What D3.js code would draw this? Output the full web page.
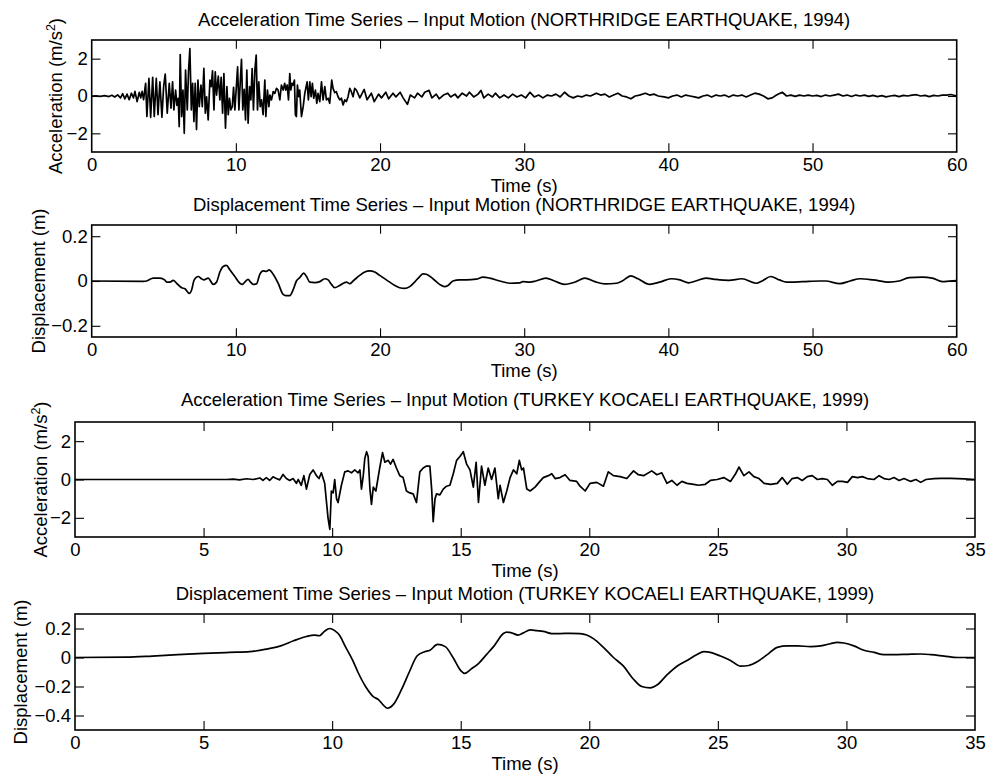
<!DOCTYPE html>
<html><head><meta charset="utf-8">
<script src="https://cdn.jsdelivr.net/npm/d3@7"></script>
<style>
body{margin:0;background:#fff}
text{font-family:"Liberation Sans",Arial,Helvetica,sans-serif;fill:#000}
</style>
</head><body>
<svg id="chart" width="991" height="776"></svg>
<script>
// ---------- DATA ----------
const accNorthridge = [
[0,0],[0.3,0.01],[0.6,-0.02],[0.9,0.02],[1.2,-0.03],[1.4,0.04],[1.6,-0.05],[1.8,0.06],[2.0,-0.1],[2.15,0.12],[2.3,-0.15],[2.45,0.1],[2.6,-0.2],[2.75,0.15],[2.9,-0.1],[3.0,0.25],[3.15,-0.3],[3.3,0.2],[3.4,-0.1],[3.5,0.25],[3.6,-0.2],[3.68,0.3],
[3.74,0.68],[3.83,-1.1],[3.97,0.94],[4.09,-1.14],[4.23,1.0],[4.34,-1.1],[4.48,0.94],[4.6,-1.0],[4.73,0.76],[4.87,-1.14],[4.99,0.5],[5.1,1.17],[5.24,-0.92],[5.38,0.68],[5.5,-0.65],[5.61,0.76],[5.7,-0.75],[5.82,0.32],[5.91,-0.5],[6.0,-0.12],[6.07,-1.64],[6.14,2.22],[6.24,-1.1],[6.33,0.32],[6.42,-2.0],[6.51,1.39],[6.63,-0.75],[6.72,1.39],[6.81,2.54],[6.91,-0.75],[7.0,0.68],[7.09,-1.37],[7.18,0.68],[7.27,-1.8],[7.37,0.85],[7.46,-0.57],[7.58,0.59],[7.67,-0.57],[7.78,1.48],[7.88,-0.92],[7.97,-0.04],[8.08,-1.28],[8.2,0.85],[8.29,0.5],[8.38,1.35],[8.48,-0.75],[8.57,1.3],[8.66,0.05],[8.78,1.07],[8.89,-0.21],[8.98,1.0],[9.08,-0.92],[9.17,1.2],[9.28,-1.72],[9.38,0.5],[9.47,-1.0],[9.56,-0.12],[9.65,-0.75],[9.75,-0.57],[9.84,0.46],[9.93,-0.75],[10.02,0.32],[10.12,1.56],[10.21,-0.75],[10.3,0.68],[10.39,1.96],[10.48,-0.75],[10.58,0.36],[10.67,-1.28],[10.76,1.39],[10.85,-1.46],[10.95,0.5],[11.04,-0.21],[11.13,1.47],[11.22,-0.75],[11.32,1.39],[11.41,2.19],[11.5,-0.75],[11.59,0.76],[11.69,-0.57],[11.78,-0.21],[11.89,-1.0],[12.01,0.85],[12.08,-1.1],[12.19,0.32],[12.29,-0.57],[12.36,0.05],[12.47,-0.21],[12.59,0.23],[12.7,0.14],[12.82,0.41],[12.93,0.32],[13.05,-0.21],[13.16,0.59],[13.28,0.32],[13.39,0.68],[13.46,0.32],[13.56,0.59],[13.65,-0.21],[13.74,1.2],[13.81,0.32],[13.9,0.68],[13.97,0.59],[14.06,0.85],[14.13,-1.01],[14.2,-1.1],[14.27,0.59],[14.36,-0.04],[14.43,0.32],[14.55,-1.1],[14.67,-0.57],[14.78,0.14],[14.85,0.41],[14.94,0.76],[15.03,-0.21],[15.13,0.76],[15.22,-0.04],[15.31,0.68],[15.4,-0.12],[15.52,0.32],[15.61,-0.39],[15.7,0.14],[15.82,-0.3],[15.94,0.76],[16.05,-0.21],[16.17,0.5],[16.28,-0.21],[16.4,-0.12],[16.51,-0.39],[16.65,0.85],[16.74,0.41],[16.86,0.18],[16.97,0.23],[17.09,-0.04],[17.21,-0.21],[17.32,-0.12],[17.44,-0.48],[17.55,-0.21],[17.67,-0.3],[17.78,-0.04],[17.9,0.41],[18.01,0.23],[18.13,-0.04],[18.24,0.41],[18.36,0.32],
[18.6,-0.1],[18.9,0.35],[19.1,-0.2],[19.4,0.15],[19.6,-0.3],[19.9,0.1],[20.1,-0.1],[20.4,0.2],[20.6,-0.15],[20.9,0.15],[21.1,-0.05],[21.4,0.2],[21.6,-0.1],[21.9,-0.45],[22.1,0.05],[22.4,-0.1],[22.6,0.15],[22.9,-0.05],[23.1,0.2],[23.4,0.3],[23.6,-0.1],[23.9,0.1],[24.1,-0.15],[24.4,0.05],[24.7,0.15],[24.9,-0.05],[25.2,0.1],[25.4,-0.1],[25.7,0.15],[26.0,0.0],[26.2,0.2],[26.5,-0.05],[26.8,0.1],[27.0,0.3],[27.2,-0.1],[27.5,0.1],[27.8,-0.05],[28.0,0.15],[28.3,-0.1],[28.6,0.05],[28.9,-0.1],[29.2,0.1],[29.5,-0.05],[29.8,0.05],[30.1,-0.1],[30.4,0.2],[30.7,-0.05],[31.0,0.05],[31.3,-0.1],[31.6,0.05],[31.9,0.0],[32.2,0.1],[32.5,-0.05],[32.8,0.2],[33.1,0.0],[33.4,-0.1],[33.7,0.0],[34.0,-0.05],[34.3,0.05],[34.6,0.0],[35.0,0.15],[35.3,0.05],[35.6,0.1],[35.9,-0.05],[36.2,0.05],[36.5,0.15],[36.8,0.0],[37.1,-0.05],[37.4,-0.15],[37.7,0.0],[38.0,0.05],[38.4,0.15],[38.7,0.05],[39.0,0.1],[39.3,0.0],[39.7,-0.05],[40.0,-0.1],[40.3,0.0],[40.6,0.05],[40.9,-0.05],[41.2,0.05],[41.5,0.0],[41.8,-0.05],[42.1,-0.1],[42.4,0.0],[42.7,0.05],[43.0,-0.05],[43.3,0.05],[43.6,0.0],[43.9,0.05],[44.2,-0.05],[44.5,0.05],[44.8,0.0],[45.1,0.05],[45.4,-0.05],[45.7,0.05],[46.0,0.15],[46.3,0.1],[46.6,0.0],[46.9,-0.15],[47.2,-0.1],[47.5,0.05],[47.9,0.2],[48.2,0.0],[48.5,0.05],[48.8,-0.02],[49.1,0.05],[49.4,0.0],[49.7,0.05],[50.0,0.0],[50.3,0.03],[50.6,-0.03],[50.9,0.05],[51.2,0.0],[51.5,0.05],[51.8,0.1],[52.1,0.0],[52.4,0.05],[52.7,-0.03],[53.0,0.05],[53.3,0.0],[53.6,0.05],[53.9,-0.02],[54.2,0.03],[54.5,-0.03],[54.8,0.02],[55.1,-0.05],[55.4,0.0],[55.7,0.03],[56.0,-0.03],[56.3,0.03],[56.6,0.0],[56.9,0.05],[57.2,0.07],[57.5,0.0],[57.8,0.03],[58.1,-0.03],[58.4,0.03],[58.7,0.0],[59.0,0.05],[59.3,0.05],[59.6,0.08],[60.0,0.0]
];
const dispNorthridge = [
[0,0],[3.58,-0.002],[3.81,0.0],[4.27,0.013],[4.73,0.013],[5.08,0.004],[5.2,-0.005],[5.43,-0.005],[5.66,0.003],[5.89,-0.01],[6.24,-0.03],[6.47,-0.035],[6.77,-0.055],[6.93,-0.04],[7.11,0.005],[7.39,0.02],[7.62,0.01],[7.78,0.005],[8.08,0.013],[8.43,-0.015],[8.66,-0.005],[8.89,0.04],[9.12,0.065],[9.35,0.07],[9.58,0.05],[9.93,0.02],[10.28,-0.01],[10.46,-0.015],[10.62,-0.005],[10.85,0.007],[11.02,-0.005],[11.2,-0.015],[11.43,-0.013],[11.66,0.03],[11.89,0.045],[12.12,0.043],[12.31,0.05],[12.59,0.03],[12.93,-0.01],[13.28,-0.06],[13.46,-0.065],[13.74,-0.065],[13.97,-0.04],[14.2,0.0],[14.43,0.015],[14.71,0.035],[14.9,0.02],[15.13,-0.005],[15.47,-0.007],[15.82,-0.003],[16.17,0.01],[16.4,0.005],[16.63,-0.015],[16.86,-0.03],[17.2,-0.02],[17.67,-0.005],[17.9,-0.012],[18.13,0.0],[18.59,0.025],[18.94,0.04],[19.28,0.045],[19.63,0.04],[19.98,0.025],[20.44,0.005],[20.9,-0.015],[21.36,-0.03],[21.71,-0.033],[22.06,-0.025],[22.4,-0.005],[22.75,0.02],[22.98,0.032],[23.21,0.03],[23.67,0.01],[24.13,-0.015],[24.48,-0.025],[24.71,-0.02],[25.06,0.0],[25.52,0.005],[25.98,0.005],[26.67,0.008],[27.14,0.017],[27.6,0.013],[28.3,0.0],[29.0,-0.01],[29.7,-0.008],[29.9,-0.003],[30.4,-0.005],[30.8,0.0],[31.5,0.013],[32.1,0.0],[32.8,-0.015],[33.6,-0.003],[34.2,0.013],[34.9,-0.003],[35.6,-0.013],[36.4,-0.01],[36.8,0.0],[37.4,0.023],[37.9,0.01],[38.7,-0.015],[39.4,-0.005],[40.2,0.01],[40.8,0.005],[41.4,-0.008],[41.9,0.0],[42.6,0.013],[43.3,0.007],[44.2,0.003],[45.1,0.01],[46.1,-0.01],[46.5,0.0],[47.1,0.02],[47.7,0.005],[48.2,-0.005],[49.3,-0.003],[50.5,0.0],[50.9,0.0],[51.9,-0.012],[52.6,0.0],[53.3,0.01],[54.2,0.005],[55.3,-0.005],[56.0,0.0],[56.7,0.015],[57.6,0.017],[58.3,0.013],[59.0,-0.003],[59.5,0.0],[60.0,0.002]
];
const accKocaeli = [
[0,0],[5.9,0],[6.15,0.02],[6.4,-0.02],[6.67,0.04],[6.93,0.0],[7.19,0.08],[7.31,-0.05],[7.44,0.1],[7.57,-0.05],[7.7,0.14],[7.83,0.05],[7.96,-0.02],[8.09,0.26],[8.22,0.05],[8.35,-0.05],[8.48,0.05],[8.61,-0.2],[8.68,0.0],[8.8,-0.3],[8.9,0.2],[9.0,-0.5],[9.13,0.26],[9.26,0.5],[9.39,0.2],[9.49,0.05],[9.58,0.35],[9.71,-0.2],[9.84,-2.0],[9.91,-2.6],[9.97,-0.6],[10.04,-0.7],[10.1,0.0],[10.17,-1.0],[10.23,-1.2],[10.36,-0.3],[10.49,0.4],[10.62,0.45],[10.75,0.35],[10.88,0.5],[11.01,0.35],[11.08,0.5],[11.14,-0.5],[11.21,0.2],[11.27,1.1],[11.34,1.45],[11.4,1.2],[11.47,-0.5],[11.53,-1.3],[11.6,-0.4],[11.7,-0.6],[11.85,0.6],[11.96,1.4],[12.05,0.9],[12.18,1.0],[12.27,0.8],[12.37,1.05],[12.5,0.6],[12.63,0.2],[12.76,0.1],[12.89,-0.6],[13.02,-0.7],[13.15,-0.75],[13.28,-1.2],[13.41,0.4],[13.54,0.6],[13.67,0.7],[13.8,0.7],[13.87,-0.5],[13.93,-2.2],[14.0,-1.0],[14.06,-0.75],[14.19,-0.8],[14.32,-0.5],[14.45,-0.35],[14.58,-0.3],[14.71,0.3],[14.84,1.0],[14.97,1.2],[15.1,1.45],[15.23,0.8],[15.36,0.5],[15.49,-0.4],[15.6,0.9],[15.69,-1.2],[15.81,0.7],[15.94,-0.3],[16.07,0.6],[16.2,0.0],[16.33,0.6],[16.46,-1.0],[16.53,-0.3],[16.66,-1.2],[16.79,-0.6],[16.92,0.1],[17.05,0.5],[17.18,0.3],[17.28,1.0],[17.37,0.5],[17.44,0.6],[17.57,-0.5],[17.7,-0.6],[17.89,-0.4],[18.08,-0.1],[18.21,0.1],[18.41,0.2],[18.54,0.3],[18.67,0.05],[18.86,0.1],[19.06,0.25],[19.25,-0.05],[19.51,-0.1],[19.64,-0.35],[19.84,-0.6],[20.03,-0.2],[20.29,-0.15],[20.55,-0.35],[20.74,0.4],[20.94,0.2],[21.2,0.15],[21.46,0.05],[21.72,0.45],[21.91,0.25],[22.11,0.2],[22.43,0.45],[22.63,0.25],[22.82,0.35],[23.02,-0.2],[23.21,-0.05],[23.41,-0.3],[23.6,-0.1],[23.8,-0.2],[24.06,-0.25],[24.25,-0.3],[24.51,-0.25],[24.71,-0.05],[24.97,0.0],[25.23,0.1],[25.49,-0.1],[25.69,0.3],[25.82,0.65],[26.01,0.2],[26.21,0.4],[26.4,0.15],[26.6,0.05],[26.8,-0.2],[27.05,-0.25],[27.31,-0.2],[27.5,0.1],[27.7,-0.25],[27.89,0.05],[28.09,0.1],[28.28,-0.05],[28.48,0.15],[28.67,0.2],[28.87,0.0],[29.06,0.05],[29.26,0.0],[29.45,-0.3],[29.65,-0.1],[29.84,-0.1],[30.04,-0.15],[30.23,0.15],[30.43,0.1],[30.62,0.15],[30.81,0.05],[31.07,0.0],[31.27,0.2],[31.46,0.05],[31.66,0.0],[31.85,0.1],[32.05,-0.05],[32.24,0.05],[32.5,-0.1],[32.7,0.0],[32.89,-0.15],[33.09,0.0],[33.41,0.05],[33.67,0.06],[34.06,0.06],[34.58,0.03],[35.0,0.0]
];
const dispKocaeli = [
[0,0],[2,0.002],[3,0.01],[4,0.02],[5,0.028],[6,0.035],[6.8,0.04],[7.5,0.06],[8,0.08],[8.5,0.115],[9,0.145],[9.3,0.155],[9.5,0.15],[9.7,0.18],[9.9,0.2],[10.1,0.185],[10.3,0.15],[10.5,0.08],[10.8,-0.02],[11.0,-0.1],[11.3,-0.2],[11.6,-0.27],[11.8,-0.29],[12.0,-0.33],[12.15,-0.35],[12.4,-0.32],[12.7,-0.22],[13.0,-0.1],[13.3,0.01],[13.6,0.04],[13.8,0.05],[14.1,0.09],[14.4,0.075],[14.7,0.0],[15.0,-0.09],[15.15,-0.11],[15.4,-0.08],[15.7,-0.04],[16.0,0.02],[16.3,0.08],[16.66,0.165],[16.79,0.175],[16.98,0.17],[17.23,0.155],[17.44,0.17],[17.7,0.19],[17.96,0.185],[18.21,0.18],[18.54,0.165],[18.86,0.165],[19.25,0.167],[19.64,0.165],[19.9,0.155],[20.16,0.13],[20.55,0.07],[20.94,0.0],[21.33,-0.06],[21.72,-0.15],[22.04,-0.2],[22.37,-0.21],[22.63,-0.19],[23.02,-0.12],[23.41,-0.06],[23.8,-0.02],[24.19,0.02],[24.45,0.04],[24.71,0.035],[25.1,0.01],[25.49,-0.02],[25.88,-0.06],[26.2,-0.055],[26.53,-0.03],[26.92,0.02],[27.31,0.07],[27.7,0.08],[28.09,0.08],[28.61,0.075],[29.0,0.08],[29.38,0.095],[29.64,0.105],[29.9,0.1],[30.29,0.08],[30.68,0.05],[31.07,0.035],[31.46,0.02],[31.85,0.02],[32.37,0.022],[32.89,0.024],[33.28,0.02],[33.8,0.01],[34.32,0.0],[35.0,0.0]
];
const titles = [
  "Acceleration Time Series \u2013 Input Motion (NORTHRIDGE EARTHQUAKE, 1994)",
  "Displacement Time Series \u2013 Input Motion (NORTHRIDGE EARTHQUAKE, 1994)",
  "Acceleration Time Series \u2013 Input Motion (TURKEY KOCAELI EARTHQUAKE, 1999)",
  "Displacement Time Series \u2013 Input Motion (TURKEY KOCAELI EARTHQUAKE, 1999)"
];
const xLabel = "Time (s)";
const accLabel = ["Acceleration (m/s", "2", ")"];
const dispLabel = "Displacement (m)";
const xTicksNorthridge = [0,10,20,30,40,50,60];
const xTicksKocaeli = [0,5,10,15,20,25,30,35];
const yTicksAcc = [-2,0,2];
const yTicksDispNorthridge = [-0.2,0,0.2];
const yTicksDispKocaeli = [-0.4,-0.2,0,0.2];

// ---------- LAYOUT ----------
const panels = [
  {data: accNorthridge, title: titles[0], ylab: "acc", xd:[0,60], yd:[-3,3], xt: xTicksNorthridge, yt: yTicksAcc,
   l:91.7, r:956.7, t:40, b:152, tick:8.7, titleGap:14.4, ylabOff:30, curve: d3.curveLinear},
  {data: dispNorthridge, title: titles[1], ylab: "disp", xd:[0,60], yd:[-0.25,0.25], xt: xTicksNorthridge, yt: yTicksDispNorthridge,
   l:91.7, r:956.7, t:225, b:337, tick:8.7, titleGap:13.8, ylabOff:46.7, curve: d3.curveMonotoneX},
  {data: accKocaeli, title: titles[2], ylab: "acc", xd:[0,35], yd:[-3,3], xt: xTicksKocaeli, yt: yTicksAcc,
   l:75, r:975, t:422, b:537, tick:9, titleGap:15.8, ylabOff:28, curve: d3.curveLinear},
  {data: dispKocaeli, title: titles[3], ylab: "disp", xd:[0,35], yd:[-0.5,0.3], xt: xTicksKocaeli, yt: yTicksDispKocaeli,
   l:75, r:975, t:614, b:730, tick:9, titleGap:14.4, ylabOff:48.3, curve: d3.curveMonotoneX}
];

const svg = d3.select("#chart");
const fs = 18.5;
const fmt = d => (d < 0 ? "\u2212" : "") + String(Math.abs(d));

panels.forEach((p, i) => {
  const x = d3.scaleLinear().domain(p.xd).range([p.l, p.r]);
  const y = d3.scaleLinear().domain(p.yd).range([p.b, p.t]);
  const g = svg.append("g");
  const cx = (p.l + p.r) / 2, cy = (p.t + p.b) / 2;

  svg.append("clipPath").attr("id", "clip" + i).append("rect")
    .attr("x", p.l).attr("y", p.t).attr("width", p.r - p.l).attr("height", p.b - p.t);

  g.append("path").datum(p.data)
    .attr("clip-path", `url(#clip${i})`)
    .attr("fill", "none").attr("stroke", "#000").attr("stroke-width", 1.7)
    .attr("stroke-linejoin", "round")
    .attr("d", d3.line().x(d => x(d[0])).y(d => y(d[1])).curve(p.curve));

  const bottom = g.append("g").attr("transform", `translate(0,${p.b})`)
    .call(d3.axisBottom(x).tickValues(p.xt).tickFormat(fmt).tickSizeInner(-p.tick).tickSizeOuter(0).tickPadding(6));
  const top = g.append("g").attr("transform", `translate(0,${p.t})`)
    .call(d3.axisTop(x).tickValues(p.xt).tickFormat("").tickSizeInner(-p.tick).tickSizeOuter(0));
  const left = g.append("g").attr("transform", `translate(${p.l},0)`)
    .call(d3.axisLeft(y).tickValues(p.yt).tickFormat(fmt).tickSizeInner(-p.tick).tickSizeOuter(0).tickPadding(4));
  const right = g.append("g").attr("transform", `translate(${p.r},0)`)
    .call(d3.axisRight(y).tickValues(p.yt).tickFormat("").tickSizeInner(-p.tick).tickSizeOuter(0));
  [bottom, top, left, right].forEach(a => {
    a.select(".domain").remove();
    a.selectAll("line").attr("stroke", "#000").attr("stroke-width", 1.1);
    a.selectAll("text").attr("font-size", fs).attr("font-family", '"Liberation Sans",Arial,sans-serif').attr("fill", "#000");
  });
  [bottom, top].forEach(a => a.selectAll(".tick").filter(d => d === p.xd[0] || d === p.xd[1]).select("line").remove());

  g.append("rect").attr("x", p.l).attr("y", p.t).attr("width", p.r - p.l).attr("height", p.b - p.t)
    .attr("fill", "none").attr("stroke", "#000").attr("stroke-width", 1.6);

  g.append("text").attr("x", cx).attr("y", p.t - p.titleGap).attr("text-anchor", "middle")
    .attr("font-size", fs).text(p.title);

  g.append("text").attr("x", cx).attr("y", p.b + 39.5).attr("text-anchor", "middle")
    .attr("font-size", fs).text(xLabel);

  const yl = g.append("text").attr("transform", `translate(${p.l - p.ylabOff},${cy}) rotate(-90)`)
    .attr("text-anchor", "middle").attr("font-size", fs);
  if (p.ylab === "acc") {
    yl.append("tspan").text(accLabel[0]);
    yl.append("tspan").attr("dy", -7).attr("font-size", 12.5).text(accLabel[1]);
    yl.append("tspan").attr("dy", 7).text(accLabel[2]);
  } else {
    yl.text(dispLabel);
  }
});
</script>
</body></html>
